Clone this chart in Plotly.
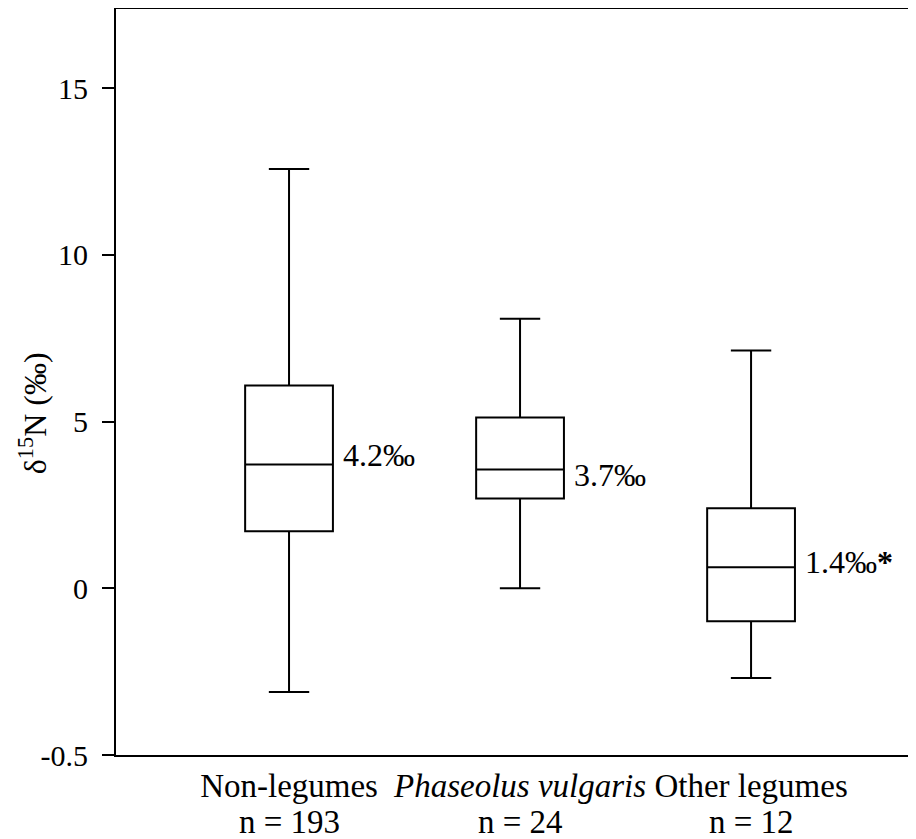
import plotly.graph_objects as go

categories = ["Non-legumes", "Phaseolus vulgaris", "Other legumes"]
tick_text_x = ["Non-legumes", "<i>Phaseolus vulgaris</i>", "Other legumes"]
n_labels = ["n = 193", "n = 24", "n = 12"]
q1 = [1.71, 2.69, -0.99]
median = [3.71, 3.56, 0.63]
q3 = [6.08, 5.12, 2.40]
lower = [-3.11, 0.0, -2.69]
upper = [12.57, 8.08, 7.13]
median_labels = ["4.2‰", "3.7‰", "1.4‰<b>*</b>"]
y_tickvals = [-5, 0, 5, 10, 15]
y_ticktext = ["-0.5", "0", "5", "10", "15"]

# label vertical nudges (pixels), style only
label_yshift = [10, -5, 5]

FONT = "Liberation Serif, Times New Roman, serif"
BOXW = 0.38
PX_PER_CAT = 231

fig = go.Figure()
for i, c in enumerate(categories):
    fig.add_trace(go.Box(
        x=[c], q1=[q1[i]], median=[median[i]], q3=[q3[i]],
        lowerfence=[lower[i]], upperfence=[upper[i]],
        width=BOXW, whiskerwidth=0.46,
        line=dict(color="black", width=2), fillcolor="white",
        boxpoints=False, showlegend=False, hoverinfo="skip",
    ))
    fig.add_annotation(
        x=c, y=median[i], xref="x", yref="y", text=median_labels[i],
        showarrow=False, xanchor="left", yanchor="middle",
        xshift=BOXW / 2 * PX_PER_CAT + 8, yshift=label_yshift[i],
        font=dict(family=FONT, size=32, color="black"),
    )
    fig.add_annotation(
        x=c, y=0, xref="x", yref="paper", text=n_labels[i],
        showarrow=False, xanchor="center", yanchor="middle", yshift=-67,
        font=dict(family=FONT, size=33, color="black"),
    )

fig.add_annotation(
    x=0, y=0.458, xref="paper", yref="paper", text="δ<sup>15</sup>N (‰)",
    textangle=-90, showarrow=False, xanchor="center", yanchor="middle", xshift=-83,
    font=dict(family=FONT, size=32, color="black"),
)

fig.update_layout(
    width=908, height=831,
    margin=dict(l=108, r=0, t=1, b=84),
    paper_bgcolor="white", plot_bgcolor="white",
    font=dict(family=FONT, size=30, color="black"),
    boxmode="overlay",
)
fig.update_xaxes(
    type="category", categoryorder="array", categoryarray=categories,
    tickmode="array", tickvals=categories, ticktext=tick_text_x,
    range=[-0.749, 2.714], showline=True, linecolor="black", linewidth=2,
    mirror=True, ticks="", showgrid=False, zeroline=False,
    tickfont=dict(family=FONT, size=33, color="black"),
)
fig.update_yaxes(
    range=[-5, 17.37], tickmode="array", tickvals=y_tickvals, ticktext=y_ticktext,
    showline=True, linecolor="black", linewidth=2, mirror=False,
    ticks="outside", ticklen=12, tickwidth=2, tickcolor="black",
    ticklabelstandoff=8, showgrid=False, zeroline=False,
    tickfont=dict(family=FONT, size=30, color="black"),
)

fig.write_html("out.html")
